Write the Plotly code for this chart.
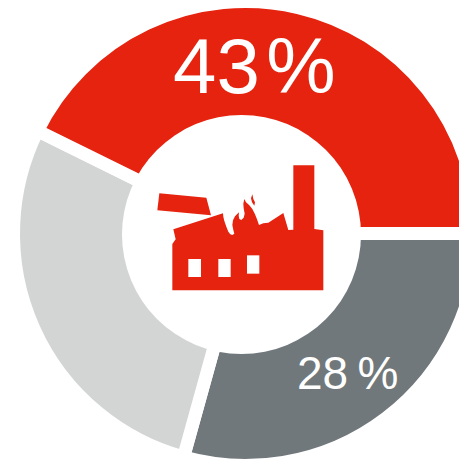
import plotly.graph_objects as go

segments = ["Dunkelgrau", "Hellgrau", "Rot"]
values = [29.3, 28, 42.7]
colors = ["#71787B", "#D3D5D4", "#E5230F"]
labels = ["43\u200a%", "28\u2009%"]

W, H = 480, 468
CX, CY, R_OUT = 245.5, 233.5, 225.5
GAP = 13
R = R_OUT + GAP / 2
HOLE_C = (241.5, 234.5)
HOLE_R = 119.5
RED = colors[2]


def px(x):
    return x / W


def py(y):
    return 1 - y / H


def path(points, close=True):
    s = "M " + " L ".join(f"{px(x):.5f},{py(y):.5f}" for x, y in points)
    return s + (" Z" if close else "")


def z1(pts):
    return [(130 + x / 3, 140 + y / 3) for x, y in pts]


def z3(pts):
    return [(215 + x / 3, 185 + y / 3) for x, y in pts]


fig = go.Figure(go.Pie(
    labels=segments, values=values, sort=False, direction="clockwise",
    rotation=90,
    marker=dict(colors=colors, line=dict(color="white", width=GAP)),
    hole=0.4, textinfo="none", showlegend=False, hoverinfo="skip",
    domain=dict(x=[(CX - R) / W, (CX + R) / W], y=[1 - (CY + R) / H, 1 - (CY - R) / H]),
))

shapes = [dict(type="circle", xref="paper", yref="paper",
               x0=px(HOLE_C[0] - HOLE_R), x1=px(HOLE_C[0] + HOLE_R),
               y0=py(HOLE_C[1] + HOLE_R), y1=py(HOLE_C[1] - HOLE_R),
               fillcolor="white", line_width=0)]

building = (
    z1([(490, 76), (553, 76), (553, 267), (580, 271), (580, 451), (127, 451), (127, 312),
        (137, 298), (130, 268)])
    + z3([(24, 85), (25, 95), (28, 108), (34, 125), (40, 140), (46, 148), (52, 150), (58, 146),
          (55, 135), (52, 120), (54, 106), (60, 94), (72, 82), (71, 92), (73, 102), (79, 105),
          (86, 98), (89, 86), (86, 70), (85, 56), (88, 42), (93, 52), (103, 61), (112, 72),
          (120, 88), (126, 103), (132, 120), (145, 115), (160, 113), (205, 84), (220, 135)])
    + z1([(490, 269)])
)
lid = z1([(88, 160), (229, 173), (243, 226), (82, 211)])
spark = z3([(112, 28), (108, 40), (111, 52), (118, 62), (120, 52), (115, 42)])
windows = [z1([(175, 357), (213, 357), (213, 411), (175, 411)]),
           z1([(265, 357), (302, 357), (302, 411), (265, 411)]),
           z1([(351, 346), (388, 346), (388, 401), (351, 401)])]

for p in (building, lid, spark):
    shapes.append(dict(type="path", xref="paper", yref="paper", path=path(p),
                       fillcolor=RED, line_width=0))
for p in windows:
    shapes.append(dict(type="path", xref="paper", yref="paper", path=path(p),
                       fillcolor="white", line_width=0))

annotations = [
    dict(text=labels[0], xref="paper", yref="paper", x=px(254.5), y=py(66), showarrow=False,
         font=dict(family="Liberation Sans", size=78, color="white"),
         xanchor="center", yanchor="middle"),
    dict(text=labels[1], xref="paper", yref="paper", x=px(347.5), y=py(373), showarrow=False,
         font=dict(family="Liberation Sans", size=46, color="white"),
         xanchor="center", yanchor="middle"),
]

fig.update_layout(width=W, height=H, autosize=False, margin=dict(l=0, r=0, t=0, b=0),
                  paper_bgcolor="white", shapes=shapes, annotations=annotations)

fig.write_html("out.html", config=dict(displayModeBar=False), post_script=(
    "document.documentElement.style.overflow='hidden';"
    "document.body.style.overflow='hidden';document.body.style.margin='0';"
))
